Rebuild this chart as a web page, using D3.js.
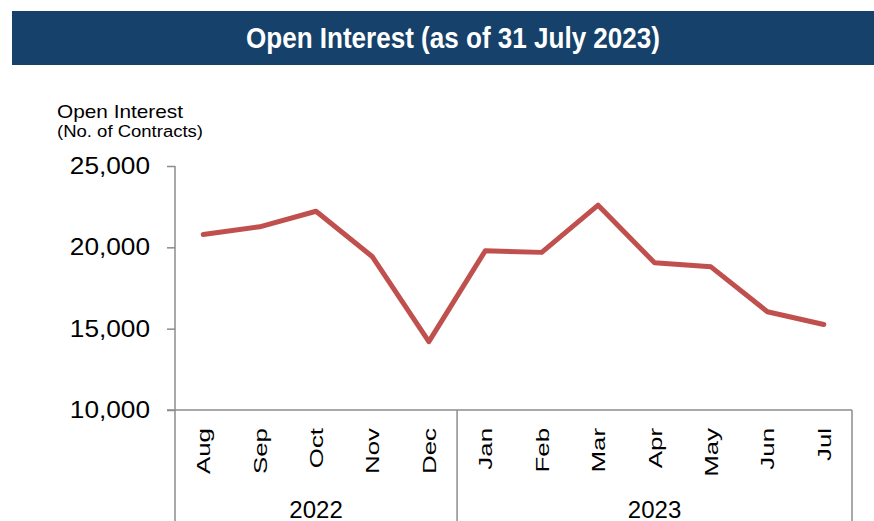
<!DOCTYPE html>
<html>
<head>
<meta charset="utf-8">
<script src="https://cdn.jsdelivr.net/npm/d3@7"></script>
<style>
  html, body { margin: 0; padding: 0; background: #fff; }
  svg { display: block; font-family: "Liberation Sans", Arial, sans-serif; }
</style>
</head>
<body>
<div id="chart"></div>
<script>
const months = ['Aug', 'Sep', 'Oct', 'Nov', 'Dec', 'Jan', 'Feb', 'Mar', 'Apr', 'May', 'Jun', 'Jul'];
const years = ['2022', '2022', '2022', '2022', '2022', '2023', '2023', '2023', '2023', '2023', '2023', '2023'];
const openInterest = [20790, 21260, 22220, 19420, 14200, 19790, 19690, 22590, 19050, 18800, 16040, 15260];
const yTicks = [10000, 15000, 20000, 25000];

const width = 874, height = 521;
const axisColor = '#8c8c8c';

const svg = d3.select('#chart').append('svg')
    .attr('width', width)
    .attr('height', height);

// the source picture is stretched, so texts get a fixed length factor
function stretch(sel, factor) {
    sel.each(function () {
        const len = this.getComputedTextLength();
        d3.select(this)
            .attr('textLength', len * factor)
            .attr('lengthAdjust', 'spacingAndGlyphs');
    });
}

// title bar
svg.append('rect')
    .attr('x', 12).attr('y', 11)
    .attr('width', width - 12).attr('height', 54)
    .attr('fill', '#15416a');
svg.append('text')
    .attr('x', 453).attr('y', 48)
    .attr('text-anchor', 'middle')
    .attr('fill', '#fff')
    .attr('font-weight', 'bold')
    .attr('font-size', 29)
    .attr('textLength', 414)
    .attr('lengthAdjust', 'spacingAndGlyphs')
    .text('Open Interest (as of 31 July 2023)');

// axis title
svg.append('text')
    .attr('x', 57).attr('y', 118)
    .attr('font-size', 19)
    .attr('textLength', 126)
    .attr('lengthAdjust', 'spacingAndGlyphs')
    .text('Open Interest');
svg.append('text')
    .attr('x', 57).attr('y', 137)
    .attr('font-size', 16)
    .attr('textLength', 146)
    .attr('lengthAdjust', 'spacingAndGlyphs')
    .text('(No. of Contracts)');

const x = d3.scaleBand()
    .domain(d3.range(months.length))
    .range([175, 852]);

const y = d3.scaleLinear()
    .domain([10000, 25000])
    .range([410, 166]);

// y axis
const yAxis = svg.append('g')
    .attr('transform', 'translate(175,0)')
    .call(d3.axisLeft(y).tickValues(yTicks).tickSize(8).tickPadding(17)
        .tickFormat(d3.format(',')));
yAxis.select('.domain').remove();
yAxis.selectAll('.tick line').attr('stroke', axisColor).attr('stroke-width', 1.5);
yAxis.selectAll('.tick text')
    .attr('font-size', 23)
    .attr('font-family', '"Liberation Sans", Arial, sans-serif')
    .attr('fill', '#000')
    .call(stretch, 1.14);
svg.append('line')
    .attr('x1', 175).attr('x2', 175)
    .attr('y1', 166).attr('y2', height)
    .attr('stroke', axisColor).attr('stroke-width', 1.5);

// x axis line and group separators
svg.append('line')
    .attr('x1', 167).attr('x2', 852)
    .attr('y1', 410).attr('y2', 410)
    .attr('stroke', axisColor).attr('stroke-width', 1.5);

const yearGroups = d3.groups(d3.range(months.length), i => years[i]);
const sepIdx = [yearGroups[0][1].length, months.length];
svg.selectAll('.sep')
    .data(sepIdx)
    .join('line')
    .attr('class', 'sep')
    .attr('x1', i => x(0) + i * x.step())
    .attr('x2', i => x(0) + i * x.step())
    .attr('y1', 410).attr('y2', height)
    .attr('stroke', axisColor).attr('stroke-width', 1.5);

// month labels
svg.selectAll('.month')
    .data(months)
    .join('text')
    .attr('class', 'month')
    .attr('transform', (d, i) => `translate(${x(i) + x.bandwidth() / 2 + 7},428) rotate(-90)`)
    .attr('text-anchor', 'end')
    .attr('font-size', 19)
    .text(d => d)
    .call(stretch, 1.36);

// year labels
svg.selectAll('.year')
    .data(yearGroups)
    .join('text')
    .attr('class', 'year')
    .attr('x', g => (x(g[1][0]) + x(g[1][g[1].length - 1]) + x.bandwidth()) / 2)
    .attr('y', 518)
    .attr('text-anchor', 'middle')
    .attr('font-size', 24)
    .text(g => g[0]);

// line
const line = d3.line()
    .x((d, i) => x(i) + x.bandwidth() / 2)
    .y(d => y(d));

svg.append('path')
    .datum(openInterest)
    .attr('d', line)
    .attr('fill', 'none')
    .attr('stroke', '#c0504d')
    .attr('stroke-width', 5)
    .attr('stroke-linejoin', 'round')
    .attr('stroke-linecap', 'round');
</script>
</body>
</html>
